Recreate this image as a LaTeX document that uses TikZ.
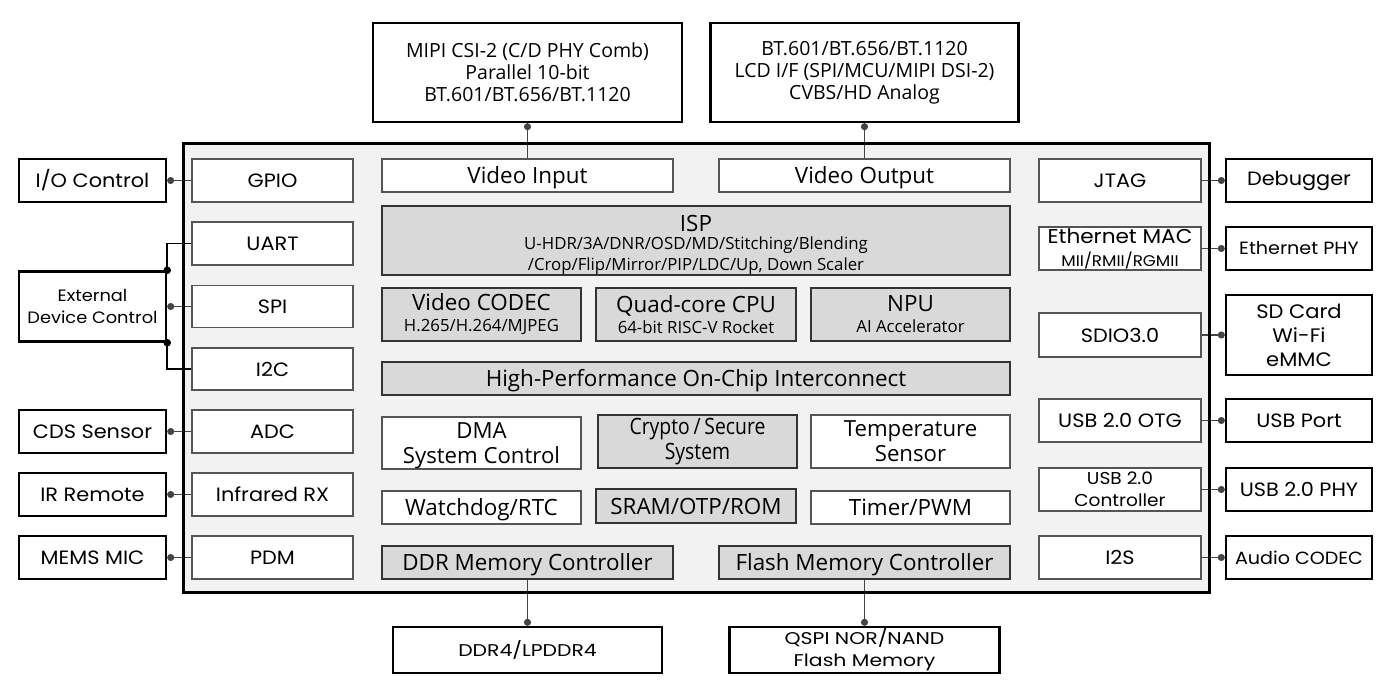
\documentclass[tikz,border=0pt]{standalone}
\usepackage{fontspec}
\usepackage{tikz}
\usetikzlibrary{arrows.meta}
\newfontfamily\sidefont[FakeStretch=1.08]{Poppins}
\newfontfamily\widefont[FakeStretch=1.2]{Poppins}
\newfontfamily\corefont{Open Sans}
\newfontfamily\condfont[FakeStretch=0.86]{Open Sans}
\definecolor{chipbg}{HTML}{F2F2F2}
\definecolor{blkgray}{HTML}{D9D9D9}
\definecolor{edgegray}{HTML}{555555}
\definecolor{wiregray}{HTML}{444444}
\pgfdeclarelayer{chiplayer}
\pgfdeclarelayer{wirelayer}
\pgfsetlayers{chiplayer,wirelayer,main}
\tikzset{
  outbox/.style={draw=black,line width=2.4pt,fill=white,inner sep=0pt,align=center,
    font=\sidefont\fontsize{19.3}{22}\selectfont},         % off-chip device
  inbox/.style={draw=edgegray,line width=1.2pt,fill=white,inner sep=0pt,align=center,
    font=\sidefont\fontsize{19.3}{22}\selectfont},         % peripheral block
  corebox/.style={inbox,font=\corefont\fontsize{22.4}{24}\selectfont},
  grayblk/.style={corebox,fill=blkgray,draw=black!80,line width=1.4pt},
  oneline/.style={text height=16pt,text depth=0pt},      % centre the caps
  sz/.style 2 args={minimum width=#1,minimum height=#2},
  wire/.style={{Circle[length=7pt,width=7pt]}-,draw=wiregray,line width=1.5pt},
  bus/.style={draw=black,line width=1.5pt},
}
\newcommand{\subtxt}{\fontsize{16.8}{21}\selectfont}
\newcommand{\ttltxt}{\fontsize{22.4}{22}\selectfont}

\begin{document}
\begin{tikzpicture}[x=1pt,y=-1pt]
  \useasboundingbox (0,0) rectangle (1393,683);
  % chip body
  \begin{pgfonlayer}{chiplayer}
    \fill[chipbg] (183,143) rectangle (1209,592);
  \end{pgfonlayer}

  % top: video interfaces
  \node[outbox,sz={309}{99},font=\corefont\fontsize{19.5}{22}\selectfont] (mipi) at (527.5,72.5)
    {MIPI CSI-2 (C/D PHY Comb)\\Parallel 10-bit\\BT.601/BT.656/BT.1120};
  \node[outbox,sz={308}{99},font=\corefont\fontsize{19.5}{22}\selectfont] (bt) at (864.5,72.5)
    {BT.601/BT.656/BT.1120\\LCD I/F (SPI/MCU/MIPI DSI-2)\\CVBS/HD Analog};
  \node[corebox,oneline,sz={291}{33}] (vin) at (527.5,175.5) {Video Input};
  \node[corebox,oneline,sz={291}{33}] (vout) at (864.5,175.5) {Video Output};

  % core blocks
  \node[grayblk,sz={628}{69}] (isp) at (696,240.5) {};
  \node[align=center,inner sep=0pt,font=\corefont\subtxt] (isptxt) at ([yshift=-4pt]isp.center)
    {{\ttltxt ISP}\\[-3pt]U-HDR/3A/DNR/OSD/MD/Stitching/Blending\\/Crop/Flip/Mirror/PIP/LDC/Up, Down Scaler};
  \node[grayblk,sz={199}{53},font=\corefont\subtxt] (codec) at (481.5,314.5)
    {{\ttltxt Video CODEC}\\H.265/H.264/MJPEG};
  \node[grayblk,sz={200}{53},font=\corefont\subtxt] (cpu) at (696,314.5)
    {{\ttltxt Quad-core CPU}\\64-bit RISC-V Rocket};
  \node[grayblk,sz={199}{53},font=\corefont\subtxt] (npu) at (910.5,314.5)
    {{\ttltxt NPU}\\AI Accelerator};
  \node[grayblk,oneline,sz={628}{33}] (noc) at (696,378.5) {High-Performance On-Chip Interconnect};
  \node[corebox,sz={199}{52}] (dma) at (481.5,443) {};
  \node[align=center,inner sep=0pt,font=\corefont\fontsize{22.2}{25}\selectfont] (dmatxt) at ([yshift=-2.5pt]dma.center)
    {DMA\\System Control};
  \node[grayblk,sz={199}{53},font=\condfont\fontsize{22.5}{25}\selectfont] (crypto) at (697.5,441.5) {Crypto\,/\,Secure\\System};
  \node[corebox,sz={199}{53},font=\corefont\fontsize{22.2}{25}\selectfont] (temp) at (910.5,441.5) {Temperature\\Sensor};
  \node[corebox,oneline,sz={199}{33}] (wdt) at (481.5,507.5) {Watchdog/RTC};
  \node[grayblk,oneline,sz={200}{34}] (sram) at (696,506) {SRAM/OTP/ROM};
  \node[corebox,oneline,sz={199}{33}] (pwm) at (910.5,507.5) {Timer/PWM};
  \node[grayblk,oneline,sz={291}{33}] (ddrc) at (527.5,562.5) {DDR Memory Controller};
  \node[grayblk,oneline,sz={291}{33}] (flashc) at (864.5,562.5) {Flash Memory Controller};

  % bottom: memories
  \node[outbox,sz={269}{46},font=\widefont\fontsize{17}{22}\selectfont] (ddr) at (527.5,650) {DDR4/LPDDR4};
  \node[outbox,sz={270}{46},font=\widefont\fontsize{17}{22}\selectfont] (qspi) at (864.5,650) {QSPI NOR/NAND\\Flash Memory};

  % left side
  \node[inbox,sz={161}{43}] (gpio) at (272.5,180.5) {GPIO};
  \node[inbox,sz={161}{43}] (uart) at (272.5,243.5) {UART};
  \node[inbox,sz={161}{42}] (spi) at (272.5,306.5) {SPI};
  \node[inbox,sz={161}{42}] (i2c) at (272.5,369) {I2C};
  \node[inbox,sz={161}{43}] (adc) at (272.5,431.5) {ADC};
  \node[inbox,sz={161}{43}] (irx) at (272.5,494.5) {Infrared RX};
  \node[inbox,sz={161}{43}] (pdm) at (272.5,557.5) {PDM};
  \node[outbox,sz={147}{43}] (io) at (92.5,180.5) {I/O Control};
  \node[outbox,sz={147}{70},font=\sidefont\fontsize{16.5}{22}\selectfont] (ext) at (92.5,306.5) {External\\Device Control};
  \node[outbox,sz={147}{43}] (cds) at (92.5,431.5) {CDS Sensor};
  \node[outbox,sz={147}{43}] (ir) at (92.5,494.5) {IR Remote};
  \node[outbox,sz={147}{43}] (mems) at (92.5,557.5) {MEMS MIC};

  % right side
  \node[inbox,sz={162}{43}] (jtag) at (1120,180.5) {JTAG};
  \node[inbox,sz={162}{43},font=\sidefont\fontsize{15.5}{23}\selectfont] (emac) at (1120,248.5)
    {{\fontsize{20}{20}\selectfont Ethernet MAC}\\MII/RMII/RGMII};
  \node[inbox,sz={162}{44}] (sdio) at (1120,335) {SDIO3.0};
  \node[inbox,sz={162}{43}] (otg) at (1120,420.5) {USB 2.0 OTG};
  \node[inbox,sz={162}{43},font=\sidefont\fontsize{17.2}{22}\selectfont] (usbc) at (1120,489.5) {USB 2.0\\Controller};
  \node[inbox,sz={162}{43}] (i2s) at (1120,557.5) {I2S};
  \node[outbox,sz={146}{43}] (dbg) at (1299,180.5) {Debugger};
  \node[outbox,sz={146}{43},font=\sidefont\fontsize{17.7}{22}\selectfont] (ephy) at (1299,248.5) {Ethernet PHY};
  \node[outbox,sz={146}{80},font=\sidefont\fontsize{19.5}{24}\selectfont] (sd) at (1299,335) {SD Card\\Wi-Fi\\eMMC};
  \node[outbox,sz={146}{43}] (uport) at (1299,420.5) {USB Port};
  \node[outbox,sz={146}{43}] (uphy) at (1299,489.5) {USB 2.0 PHY};
  \node[outbox,sz={146}{43},font=\sidefont\fontsize{17.7}{22}\selectfont] (acodec) at (1299,557.5) {Audio CODEC};

  % chip outline
  \draw[line width=3pt] (183,143) rectangle (1209,592);

  % connections
  \begin{pgfonlayer}{wirelayer}
    \draw[wire] (mipi.south) -- (vin.north);
    \draw[wire] (bt.south) -- (vout.north);
    \draw[wire] (ddr.north) -- (ddrc.south);
    \draw[wire] (qspi.north) -- (flashc.south);
    \draw[wire] (io.east) -- (gpio.west);
    \draw[wire] (ext.east) -- (spi.west);
    \draw[wire] (cds.east) -- (adc.west);
    \draw[wire] (ir.east) -- (irx.west);
    \draw[wire] (mems.east) -- (pdm.west);
    \draw[wire] (dbg.west) -- (jtag.east);
    \draw[wire] (ephy.west) -- (emac.east);
    \draw[wire] (sd.west) -- (sdio.east);
    \draw[wire] (uport.west) -- (otg.east);
    \draw[wire] (uphy.west) -- (usbc.east);
    \draw[wire] (acodec.west) -- (i2s.east);
    \draw[bus] (uart.west) -| (ext.north east);
    \draw[bus] (ext.south east) |- (i2c.west);
  \end{pgfonlayer}
  \fill (ext.north east) circle (3.8);
  \fill (ext.south east) circle (3.8);
\end{tikzpicture}
\end{document}
